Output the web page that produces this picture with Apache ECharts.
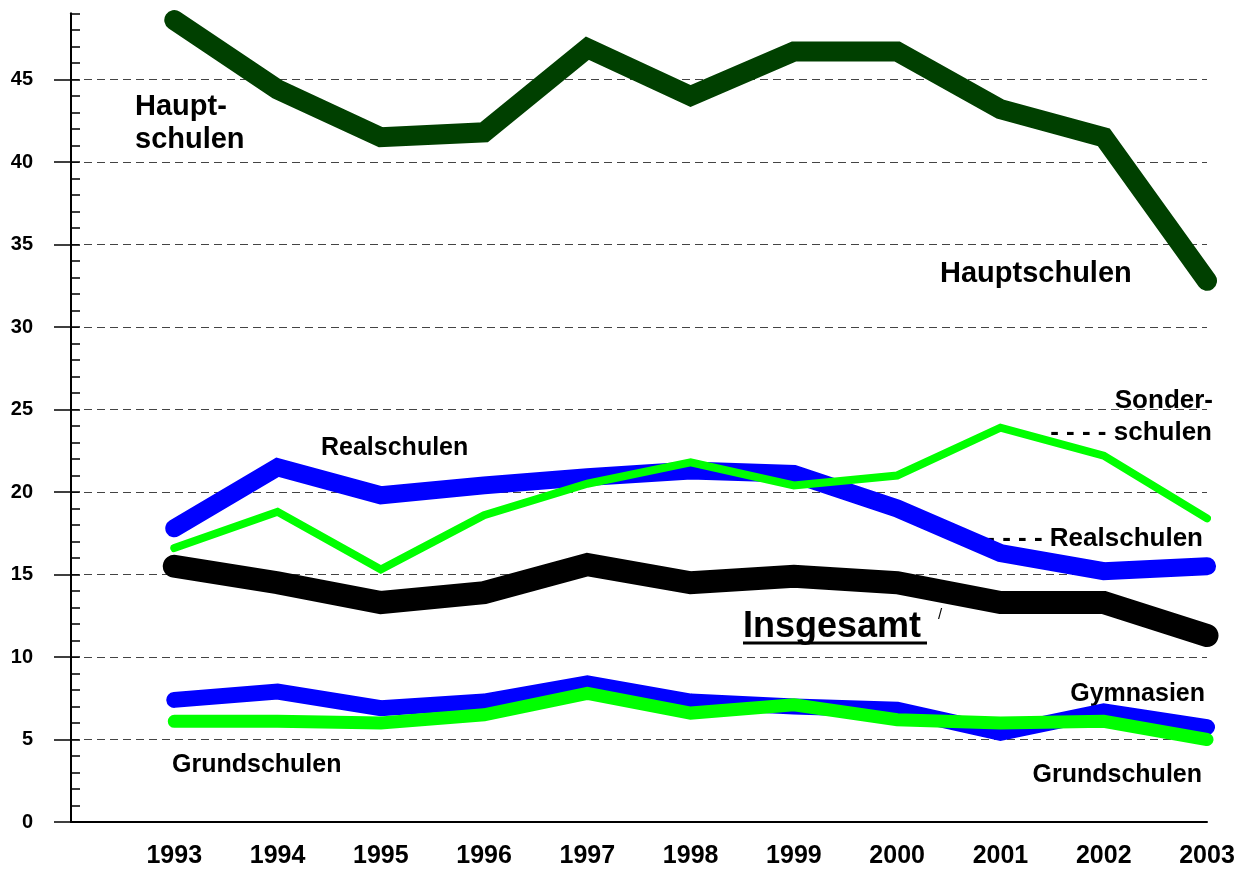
<!DOCTYPE html>
<html>
<head>
<meta charset="utf-8">
<script src="https://cdn.jsdelivr.net/npm/echarts@6/dist/echarts.min.js"></script>
<style>
  html, body { margin: 0; padding: 0; background: #fff; }
  #chart { width: 1242px; height: 869px; }
</style>
</head>
<body>
<div id="chart"></div>
<script>
const years = [1993, 1994, 1995, 1996, 1997, 1998, 1999, 2000, 2001, 2002, 2003];
const hauptschulen = [48.6, 44.4, 41.5, 41.8, 46.9, 44.0, 46.7, 46.7, 43.2, 41.5, 32.8];
const realschulen = [17.8, 21.5, 19.8, 20.4, 20.9, 21.3, 21.1, 19.0, 16.3, 15.2, 15.5];
const sonderschulen = [16.6, 18.8, 15.3, 18.6, 20.5, 21.8, 20.4, 21.0, 23.9, 22.2, 18.4];
const insgesamt = [15.5, 14.5, 13.3, 13.9, 15.6, 14.5, 14.9, 14.5, 13.3, 13.3, 11.3];
const gymnasien = [7.4, 7.9, 6.9, 7.3, 8.4, 7.3, 7.0, 6.8, 5.4, 6.7, 5.75];
const grundschulen = [6.1, 6.1, 6.0, 6.5, 7.8, 6.6, 7.1, 6.2, 6.0, 6.1, 5.0];
const yTicks = [0, 5, 10, 15, 20, 25, 30, 35, 40, 45];
const yMax = 49;

const FONT = '"Liberation Sans", Arial, sans-serif';

var chart = echarts.init(document.getElementById('chart'));

function pairs(vals) {
    return years.map((y, i) => [y, vals[i]]);
}

function line(name, vals, color, width) {
    return {
        name: name,
        type: 'line',
        data: pairs(vals),
        symbol: 'none',
        lineStyle: { color: color, width: width, cap: 'round', join: 'miter' }
    };
}

function label(text, x, y, size, align) {
    return {
        type: 'text',
        style: {
            text: text, x: x, y: y,
            font: 'bold ' + size + 'px ' + FONT,
            fill: '#000',
            align: align || 'left',
            verticalAlign: 'middle'
        }
    };
}

const option = {
    animation: false,
    backgroundColor: '#fff',
    grid: { left: 71, right: 35, top: 13.5, bottom: 47, outerBoundsMode: 'none' },
    xAxis: {
        type: 'value',
        min: years[0] - 1,
        max: years[years.length - 1],
        interval: 1,
        axisLine: { lineStyle: { color: '#000', width: 2 } },
        axisTick: { show: false },
        splitLine: { show: false },
        axisLabel: {
            margin: 22,
            color: '#000',
            fontFamily: FONT,
            fontWeight: 'bold',
            fontSize: 25,
            formatter: v => (v >= years[0] ? String(v) : '')
        }
    },
    yAxis: [
        {
            type: 'value',
            position: 'left',
            min: 0,
            max: yMax,
            interval: 5,
            axisLine: { show: true, lineStyle: { color: '#000', width: 2 } },
            axisTick: { show: true, length: 17, customValues: yTicks, lineStyle: { color: '#000', width: 1.5 } },
            axisLabel: {
                customValues: yTicks,
                margin: 38,
                color: '#000',
                fontFamily: FONT,
                fontWeight: 'bold',
                fontSize: 20
            },
            splitLine: {
                show: true,
                lineStyle: { color: '#444', width: 1, type: [8, 5] }
            }
        },
        {
            type: 'value',
            position: 'left',
            min: 0,
            max: yMax,
            interval: 1,
            axisLine: { show: true, lineStyle: { color: '#000', width: 2 } },
            axisTick: { show: true, inside: true, length: 9, lineStyle: { color: '#000', width: 1.5 } },
            axisLabel: { show: false },
            splitLine: { show: false }
        }
    ],
    series: [
        line('Hauptschulen', hauptschulen, '#004000', 20),
        line('Realschulen', realschulen, '#0000ff', 18),
        line('Gymnasien', gymnasien, '#0000ff', 16),
        line('Insgesamt', insgesamt, '#000000', 23),
        line('Sonderschulen', sonderschulen, '#00ff00', 8),
        line('Grundschulen', grundschulen, '#00ff00', 13)
    ],
    graphic: [
        label('Haupt-', 135, 107, 29),
        label('schulen', 135, 140, 29),
        label('Hauptschulen', 940, 274, 29),
        label('Realschulen', 321, 448, 25),
        label('Grundschulen', 172, 765, 25),
        label('Gymnasien', 1205, 694, 25, 'right'),
        label('Grundschulen', 1202, 775, 25, 'right'),
        label('Sonder-', 1213, 401, 26, 'right'),
        label('- - - - schulen', 1212, 433, 26, 'right'),
        label('- - - - Realschulen', 1203, 539, 26, 'right'),
        label('Insgesamt', 743, 627, 36),
        {
            type: 'line',
            shape: { x1: 743, y1: 643, x2: 927, y2: 643 },
            style: { stroke: '#000', lineWidth: 3 }
        },
        {
            type: 'text',
            style: { text: '/', x: 940, y: 615, font: '15px ' + FONT, fill: '#000', align: 'center', verticalAlign: 'middle' }
        }
    ]
};

chart.setOption(option);
</script>
</body>
</html>
